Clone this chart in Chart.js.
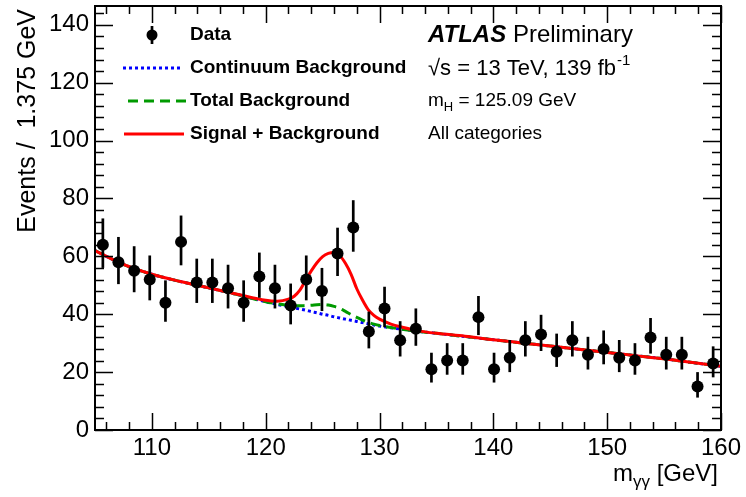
<!DOCTYPE html>
<html>
<head>
<meta charset="utf-8">
<script src="https://cdn.jsdelivr.net/npm/chart.js@4.4.1/dist/chart.umd.min.js"></script>
<style>
  html, body { margin: 0; padding: 0; background: #fff; }
  #wrap { width: 746px; height: 497px; }
</style>
</head>
<body>
<div id="wrap"><canvas id="chart" width="746" height="497"></canvas></div>
<script>
/* diphoton mass spectrum, ATLAS-style plot */
const massBins = [105.69, 107.06, 108.44, 109.81, 111.19, 112.56, 113.94, 115.31, 116.69, 118.06,
                  119.44, 120.81, 122.19, 123.56, 124.94, 126.31, 127.69, 129.06, 130.44, 131.81,
                  133.19, 134.56, 135.94, 137.31, 138.69, 140.06, 141.44, 142.81, 144.19, 145.56,
                  146.94, 148.31, 149.69, 151.06, 152.44, 153.81, 155.19, 156.56, 157.94, 159.31];
const events   = [64, 58, 55, 52, 44, 65, 51, 51, 49, 44,
                  53, 49, 43, 52, 48, 61, 70, 34, 42, 31,
                  35, 21, 24, 24, 39, 21, 25, 31, 33, 27,
                  31, 26, 28, 25, 24, 32, 26, 26, 15, 23];
const errUp    = [9.1, 8.7, 8.5, 8.3, 7.7, 9.1, 8.2, 8.2, 8.1, 7.7,
                  8.3, 8.1, 7.6, 8.3, 8.0, 8.9, 9.4, 6.9, 7.5, 6.6,
                  7.0, 5.7, 6.0, 6.0, 7.3, 5.7, 6.1, 6.6, 6.8, 6.3,
                  6.6, 6.2, 6.4, 6.1, 6.0, 6.7, 6.2, 6.2, 5.0, 5.9];
const errDown  = [8.0, 7.6, 7.4, 7.2, 6.6, 8.1, 7.1, 7.1, 7.0, 6.6,
                  7.3, 7.0, 6.5, 7.2, 6.9, 7.8, 8.4, 5.8, 6.5, 5.6,
                  5.9, 4.6, 4.9, 4.9, 6.2, 4.6, 5.0, 5.6, 5.7, 5.2,
                  5.6, 5.1, 5.3, 5.0, 4.9, 5.6, 5.1, 5.1, 3.8, 4.8];

const curveMass = [105, 107.5, 110, 112.5, 115, 117.5, 120, 121, 122, 122.5,
                   123, 123.5, 124, 124.5, 125, 125.5, 126, 126.5, 127, 127.5,
                   128, 128.5, 129, 129.5, 130, 131, 132, 133, 134, 135,
                   137.5, 140, 142.5, 145, 147.5, 150, 152.5, 155, 157.5, 160];
const continuumBkg = [62.0, 57.2, 53.8, 51.3, 49.1, 46.8, 44.3, 43.4, 42.6, 42.2,
                      41.8, 41.4, 40.9, 40.5, 40.0, 39.6, 39.1, 38.7, 38.3, 37.9,
                      37.5, 37.1, 36.7, 36.3, 35.9, 35.3, 34.8, 34.3, 33.8, 33.4,
                      32.3, 31.2, 30.1, 29.0, 27.9, 26.8, 25.7, 24.6, 23.3, 22.0];
const totalBkg     = [62.0, 57.2, 53.8, 51.3, 49.1, 46.8, 44.3, 43.6, 43.1, 43.0,
                      42.9, 43.0, 43.1, 43.3, 43.4, 43.2, 42.7, 42.0, 41.0, 39.9,
                      38.9, 38.0, 37.2, 36.6, 36.1, 35.4, 34.8, 34.3, 33.8, 33.4,
                      32.3, 31.2, 30.1, 29.0, 27.9, 26.8, 25.7, 24.6, 23.3, 22.0];
const sigPlusBkg   = [62.0, 57.2, 53.8, 51.3, 49.1, 46.9, 44.8, 44.5, 45.2, 46.2,
                      48.3, 51.7, 55.0, 57.8, 59.9, 61.0, 61.3, 60.3, 57.6, 53.8,
                      48.8, 44.9, 41.6, 39.6, 38.3, 36.6, 35.5, 34.6, 33.9, 33.4,
                      32.4, 31.2, 30.1, 29.0, 27.9, 26.8, 25.7, 24.6, 23.3, 22.0];

const xTickLabels = [110, 120, 130, 140, 150, 160];
const yTickLabels = [0, 20, 40, 60, 80, 100, 120, 140];

const FONT = "'Liberation Sans', Arial, Helvetica, sans-serif";
const toXY = (xs, ys) => xs.map((x, i) => ({ x, y: ys[i] }));

const rootStyle = {
  id: 'rootStyle',
  beforeDatasetDraw(chart, args) {
    if (args.index !== 0) return;
    const { ctx, scales: { x, y } } = chart;
    ctx.save();
    ctx.strokeStyle = '#000';
    ctx.lineWidth = 2.7;
    massBins.forEach((m, i) => {
      const px = x.getPixelForValue(m);
      ctx.beginPath();
      ctx.moveTo(px, y.getPixelForValue(events[i] + errUp[i]));
      ctx.lineTo(px, y.getPixelForValue(events[i] - errDown[i]));
      ctx.stroke();
    });
    ctx.restore();
  },
  afterDraw(chart) {
    const { ctx, chartArea: a, scales: { x, y } } = chart;
    ctx.save();
    ctx.strokeStyle = '#000';
    ctx.fillStyle = '#000';

    // frame
    ctx.lineWidth = 2;
    ctx.strokeRect(a.left, a.top, a.right - a.left, a.bottom - a.top);

    // inward ticks, all four sides
    ctx.lineWidth = 1.5;
    for (let i = 0; 4 * i <= y.max; i++) {
      const v = 4 * i, py = Math.round(y.getPixelForValue(v)) + 0.5;
      const len = v % 20 === 0 ? 18 : 9;
      ctx.beginPath();
      ctx.moveTo(a.left, py); ctx.lineTo(a.left + len, py);
      ctx.moveTo(a.right, py); ctx.lineTo(a.right - len, py);
      ctx.stroke();
    }
    for (let i = 0; 106 + 2 * i <= 160; i++) {
      const v = 106 + 2 * i, px = Math.round(x.getPixelForValue(v)) + 0.5;
      const len = v % 10 === 0 ? 17 : 8;
      ctx.beginPath();
      ctx.moveTo(px, a.bottom); ctx.lineTo(px, a.bottom - len);
      ctx.moveTo(px, a.top); ctx.lineTo(px, a.top + len);
      ctx.stroke();
    }

    // y title
    ctx.save();
    ctx.translate(28, 9);
    ctx.rotate(-Math.PI / 2);
    ctx.font = `25px ${FONT}`;
    ctx.textAlign = 'right';
    ctx.textBaseline = 'middle';
    ctx.fillText('Events /  1.375 GeV', 0, 0);
    ctx.restore();

    // x title: m_γγ [GeV]
    ctx.textBaseline = 'alphabetic';
    ctx.textAlign = 'left';
    const big = `24px ${FONT}`, small = `17px ${FONT}`;
    ctx.font = big; const wm = ctx.measureText('m').width, wr = ctx.measureText(' [GeV]').width;
    ctx.font = small; const ws = ctx.measureText('γγ').width;
    let tx = 718 - (wm + ws + wr);
    ctx.font = big; ctx.fillText('m', tx, 481); tx += wm;
    ctx.font = small; ctx.fillText('γγ', tx, 487); tx += ws;
    ctx.font = big; ctx.fillText(' [GeV]', tx, 481);

    // legend symbols
    const lx = 190;
    ctx.lineWidth = 2.7;
    ctx.beginPath(); ctx.moveTo(152, 26); ctx.lineTo(152, 44); ctx.stroke();
    ctx.beginPath(); ctx.arc(152, 35, 5.5, 0, Math.PI * 2); ctx.fill();
    ctx.lineWidth = 3;
    ctx.strokeStyle = '#0000ff'; ctx.setLineDash([3, 3]);
    ctx.beginPath(); ctx.moveTo(123, 68); ctx.lineTo(182, 68); ctx.stroke();
    ctx.strokeStyle = '#009a00'; ctx.setLineDash([10, 6]);
    ctx.beginPath(); ctx.moveTo(128, 101); ctx.lineTo(188, 101); ctx.stroke();
    ctx.strokeStyle = '#ff0000'; ctx.setLineDash([]);
    ctx.beginPath(); ctx.moveTo(124, 134); ctx.lineTo(184, 134); ctx.stroke();

    ctx.textBaseline = 'middle';
    ctx.font = `bold 19px ${FONT}`;
    ctx.fillText('Data', lx, 35);
    ctx.fillText('Continuum Background', lx, 68);
    ctx.fillText('Total Background', lx, 101);
    ctx.fillText('Signal + Background', lx, 134);

    // labels on the right
    const rx = 428;
    ctx.font = `italic bold 24px ${FONT}`;
    ctx.fillText('ATLAS', rx, 35);
    const wa = ctx.measureText('ATLAS ').width;
    ctx.font = `24px ${FONT}`;
    ctx.fillText('Preliminary', rx + wa, 35);

    ctx.font = `22px ${FONT}`;
    const s1 = '√s = 13 TeV, 139 fb';
    ctx.fillText(s1, rx, 69);
    const w1 = ctx.measureText(s1).width;
    ctx.font = `15px ${FONT}`;
    ctx.fillText('-1', rx + w1 + 1, 61);

    ctx.font = `19px ${FONT}`;
    ctx.fillText('m', rx, 101);
    let hx = rx + ctx.measureText('m').width;
    ctx.font = `13px ${FONT}`;
    ctx.fillText('H', hx, 107);
    hx += ctx.measureText('H').width;
    ctx.font = `19px ${FONT}`;
    ctx.fillText(' = 125.09 GeV', hx, 101);
    ctx.fillText('All categories', rx, 134);

    ctx.restore();
  }
};

const lineSet = (label, data, color, dash, order) => ({
  type: 'line', label, data, order,
  borderColor: color, borderWidth: 3, borderDash: dash,
  pointRadius: 0, pointHoverRadius: 0, fill: false, showLine: true,
  cubicInterpolationMode: 'monotone'
});

// keep the plot frame where the reference has it: no extra room for edge labels
const noEdgePadding = (s) => { s.paddingTop = 0; s.paddingBottom = 0; s.paddingLeft = 0; s.paddingRight = 0; };

const ctx = document.getElementById('chart').getContext('2d');
new Chart(ctx, {
  type: 'scatter',
  data: {
    datasets: [
      { label: 'Data', data: toXY(massBins, events), order: 0,
        pointRadius: 6, pointHoverRadius: 6, pointBorderWidth: 0,
        backgroundColor: '#000', borderColor: '#000' },
      lineSet('Signal + Background', toXY(curveMass, sigPlusBkg), '#ff0000', [], 1),
      lineSet('Total Background', toXY(curveMass, totalBkg), '#009a00', [10, 6], 2),
      lineSet('Continuum Background', toXY(curveMass, continuumBkg), '#0000ff', [3, 3], 3)
    ]
  },
  options: {
    responsive: false,
    animation: false,
    layout: { padding: { top: 6, right: 25, left: 0, bottom: 0 } },
    plugins: { legend: { display: false }, tooltip: { enabled: false } },
    scales: {
      x: {
        type: 'linear', min: 105, max: 160,
        afterBuildTicks: (s) => { s.ticks = xTickLabels.map(v => ({ value: v })); },
        afterFit: (s) => { s.height = 67; noEdgePadding(s); },
        grid: { display: false, drawTicks: false }, border: { display: false },
        ticks: { color: '#000', font: { family: FONT, size: 24 }, padding: 4, maxRotation: 0 }
      },
      y: {
        type: 'linear', min: 0, max: 146.5,
        afterBuildTicks: (s) => { s.ticks = yTickLabels.map(v => ({ value: v })); },
        afterFit: (s) => { s.width = 95; noEdgePadding(s); },
        grid: { display: false, drawTicks: false }, border: { display: false },
        ticks: { color: '#000', font: { family: FONT, size: 24 }, padding: 6 }
      }
    }
  },
  plugins: [rootStyle]
});
</script>
</body>
</html>
